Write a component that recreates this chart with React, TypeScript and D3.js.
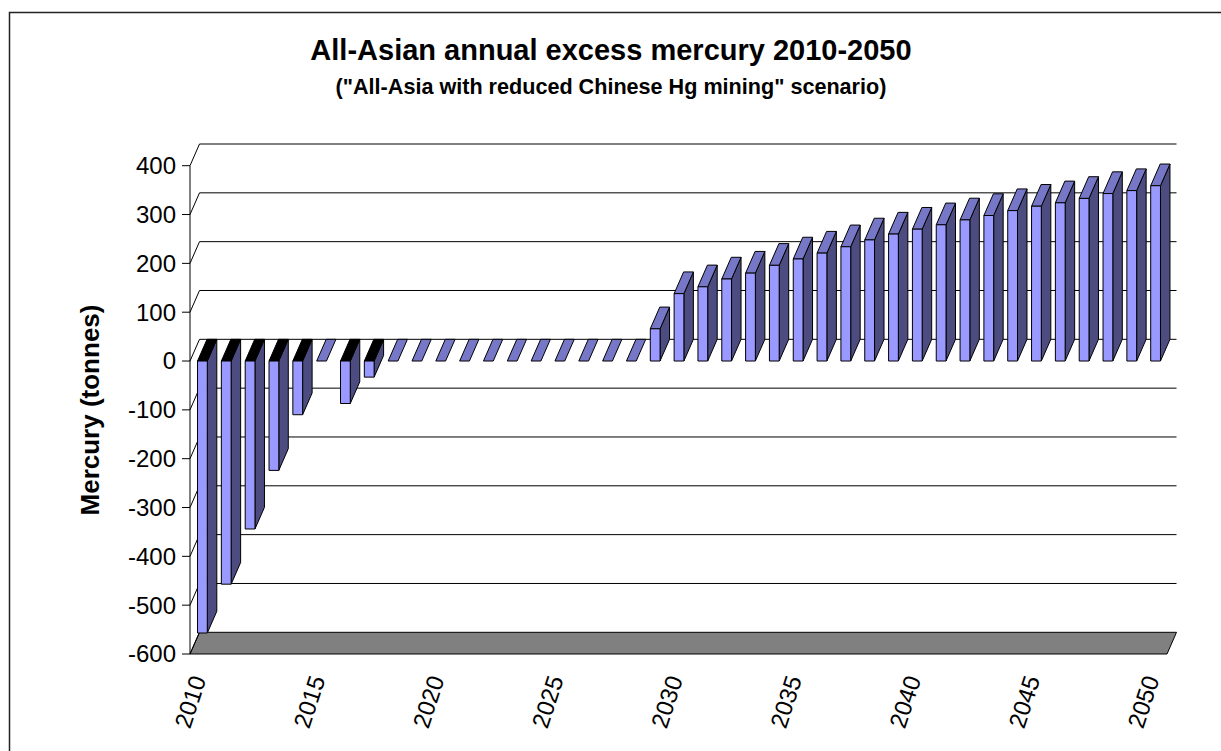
import React from "react";
import * as d3 from "d3";

// Annual excess mercury, All-Asia scenario with reduced Chinese Hg mining
const years: number[] = [
  2010, 2011, 2012, 2013, 2014, 2015, 2016, 2017, 2018, 2019,
  2020, 2021, 2022, 2023, 2024, 2025, 2026, 2027, 2028, 2029,
  2030, 2031, 2032, 2033, 2034, 2035, 2036, 2037, 2038, 2039,
  2040, 2041, 2042, 2043, 2044, 2045, 2046, 2047, 2048, 2049, 2050,
];
const excessMercury: number[] = [
  -557, -457, -344, -224, -110, 0, -87, -33, 0, 0,
  0, 0, 0, 0, 0, 0, 0, 0, 0, 66,
  138, 152, 168, 180, 196, 209, 221, 234, 248, 260,
  270, 279, 289, 298, 308, 317, 324, 333, 343, 349, 359,
];
const yTicks: number[] = [-600, -500, -400, -300, -200, -100, 0, 100, 200, 300, 400];
const xLabelYears: number[] = [2010, 2015, 2020, 2025, 2030, 2035, 2040, 2045, 2050];

const W = 1221;
const H = 751;
const FONT = "'Liberation Sans', Arial, Helvetica, sans-serif";

// oblique depth of the 3-D box
const DX = 9.5;
const DY = -21.7;

const FRONT = "#9999FF";
const SIDE = "#4C4C80";
const TOP = "#7777C8";

export default function App() {
  const x = d3
    .scaleBand<number>()
    .domain(years)
    .range([190.5, 1167.5])
    .padding(0);
  const y = d3.scaleLinear().domain([-600, 400]).range([654, 165.7]);

  const axisX = 190;
  const floorLeft = 190;
  const floorRight = 1167;
  const barW = x.bandwidth() * 0.41;
  const y0 = y(0);

  const pts = (p: [number, number][]) => p.map((d) => d.join(",")).join(" ");

  return (
    <svg
      width={W}
      height={H}
      style={{ position: "absolute", left: 0, top: 0, background: "#fff" }}
      fontFamily={FONT}
    >
      {/* outer frame */}
      <rect x={9.5} y={12.5} width={W + 20} height={H + 20} fill="none" stroke="#222" strokeWidth={1.5} />

      {/* titles */}
      <text x={611} y={60} textAnchor="middle" fontSize={29} fontWeight="bold">
        All-Asian annual excess mercury 2010-2050
      </text>
      <text x={611} y={94} textAnchor="middle" fontSize={21.6} fontWeight="bold">
        ("All-Asia with reduced Chinese Hg mining" scenario)
      </text>

      {/* floor */}
      <polygon
        points={pts([
          [floorLeft, y(-600)],
          [floorRight, y(-600)],
          [floorRight + DX, y(-600) + DY],
          [floorLeft + DX, y(-600) + DY],
        ])}
        fill="#808080"
        stroke="#000"
        strokeWidth={1}
      />

      {/* back-wall gridlines and side-wall slants */}
      {yTicks.map((t) => (
        <g key={t}>
          {t > -600 && (
            <line
              x1={floorLeft + DX}
              x2={floorRight + DX}
              y1={y(t) + DY}
              y2={y(t) + DY}
              stroke="#000"
              strokeWidth={1}
            />
          )}
          <line x1={axisX} x2={axisX + DX} y1={y(t)} y2={y(t) + DY} stroke="#000" strokeWidth={1} />
          <line x1={axisX - 8} x2={axisX} y1={y(t)} y2={y(t)} stroke="#000" strokeWidth={1} />
          <text x={176} y={y(t)} dy="0.35em" textAnchor="end" fontSize={24}>
            {t}
          </text>
        </g>
      ))}
      <line x1={axisX} x2={axisX} y1={y(400)} y2={y(-600)} stroke="#000" strokeWidth={1} />

      {/* bars */}
      {years.map((yr, i) => {
        const v = excessMercury[i];
        const cx = (x(yr) as number) + x.bandwidth() / 2;
        const x0 = cx - barW / 2;
        const x1 = cx + barW / 2;
        const yv = y(v);
        if (v === 0) {
          return (
            <polygon
              key={yr}
              points={pts([
                [x0, y0],
                [x1, y0],
                [x1 + DX, y0 + DY],
                [x0 + DX, y0 + DY],
              ])}
              fill={TOP}
              stroke="#000"
              strokeWidth={1}
            />
          );
        }
        const yTop = Math.min(yv, y0);
        const yBot = Math.max(yv, y0);
        return (
          <g key={yr} stroke="#000" strokeWidth={1} strokeLinejoin="round">
            <polygon
              points={pts([
                [x1, yTop],
                [x1 + DX, yTop + DY],
                [x1 + DX, yBot + DY],
                [x1, yBot],
              ])}
              fill={SIDE}
            />
            <polygon
              points={pts([
                [x0, yTop],
                [x0 + DX, yTop + DY],
                [x1 + DX, yTop + DY],
                [x1, yTop],
              ])}
              fill={v < 0 ? "#000" : TOP}
            />
            <rect x={x0} y={yTop} width={barW} height={yBot - yTop} fill={FRONT} />
          </g>
        );
      })}

      {/* category labels */}
      {xLabelYears.map((yr) => {
        const cx = (x(yr) as number) + x.bandwidth() / 2 + 4;
        const ly = 679;
        return (
          <text
            key={yr}
            x={cx}
            y={ly}
            textAnchor="end"
            fontSize={24}
            transform={`rotate(-72, ${cx}, ${ly})`}
          >
            {yr}
          </text>
        );
      })}

      {/* value axis title */}
      <text
        x={0}
        y={0}
        textAnchor="middle"
        fontSize={26}
        fontWeight="bold"
        transform={`translate(99, 410) rotate(-90)`}
      >
        Mercury (tonnes)
      </text>
    </svg>
  );
}
